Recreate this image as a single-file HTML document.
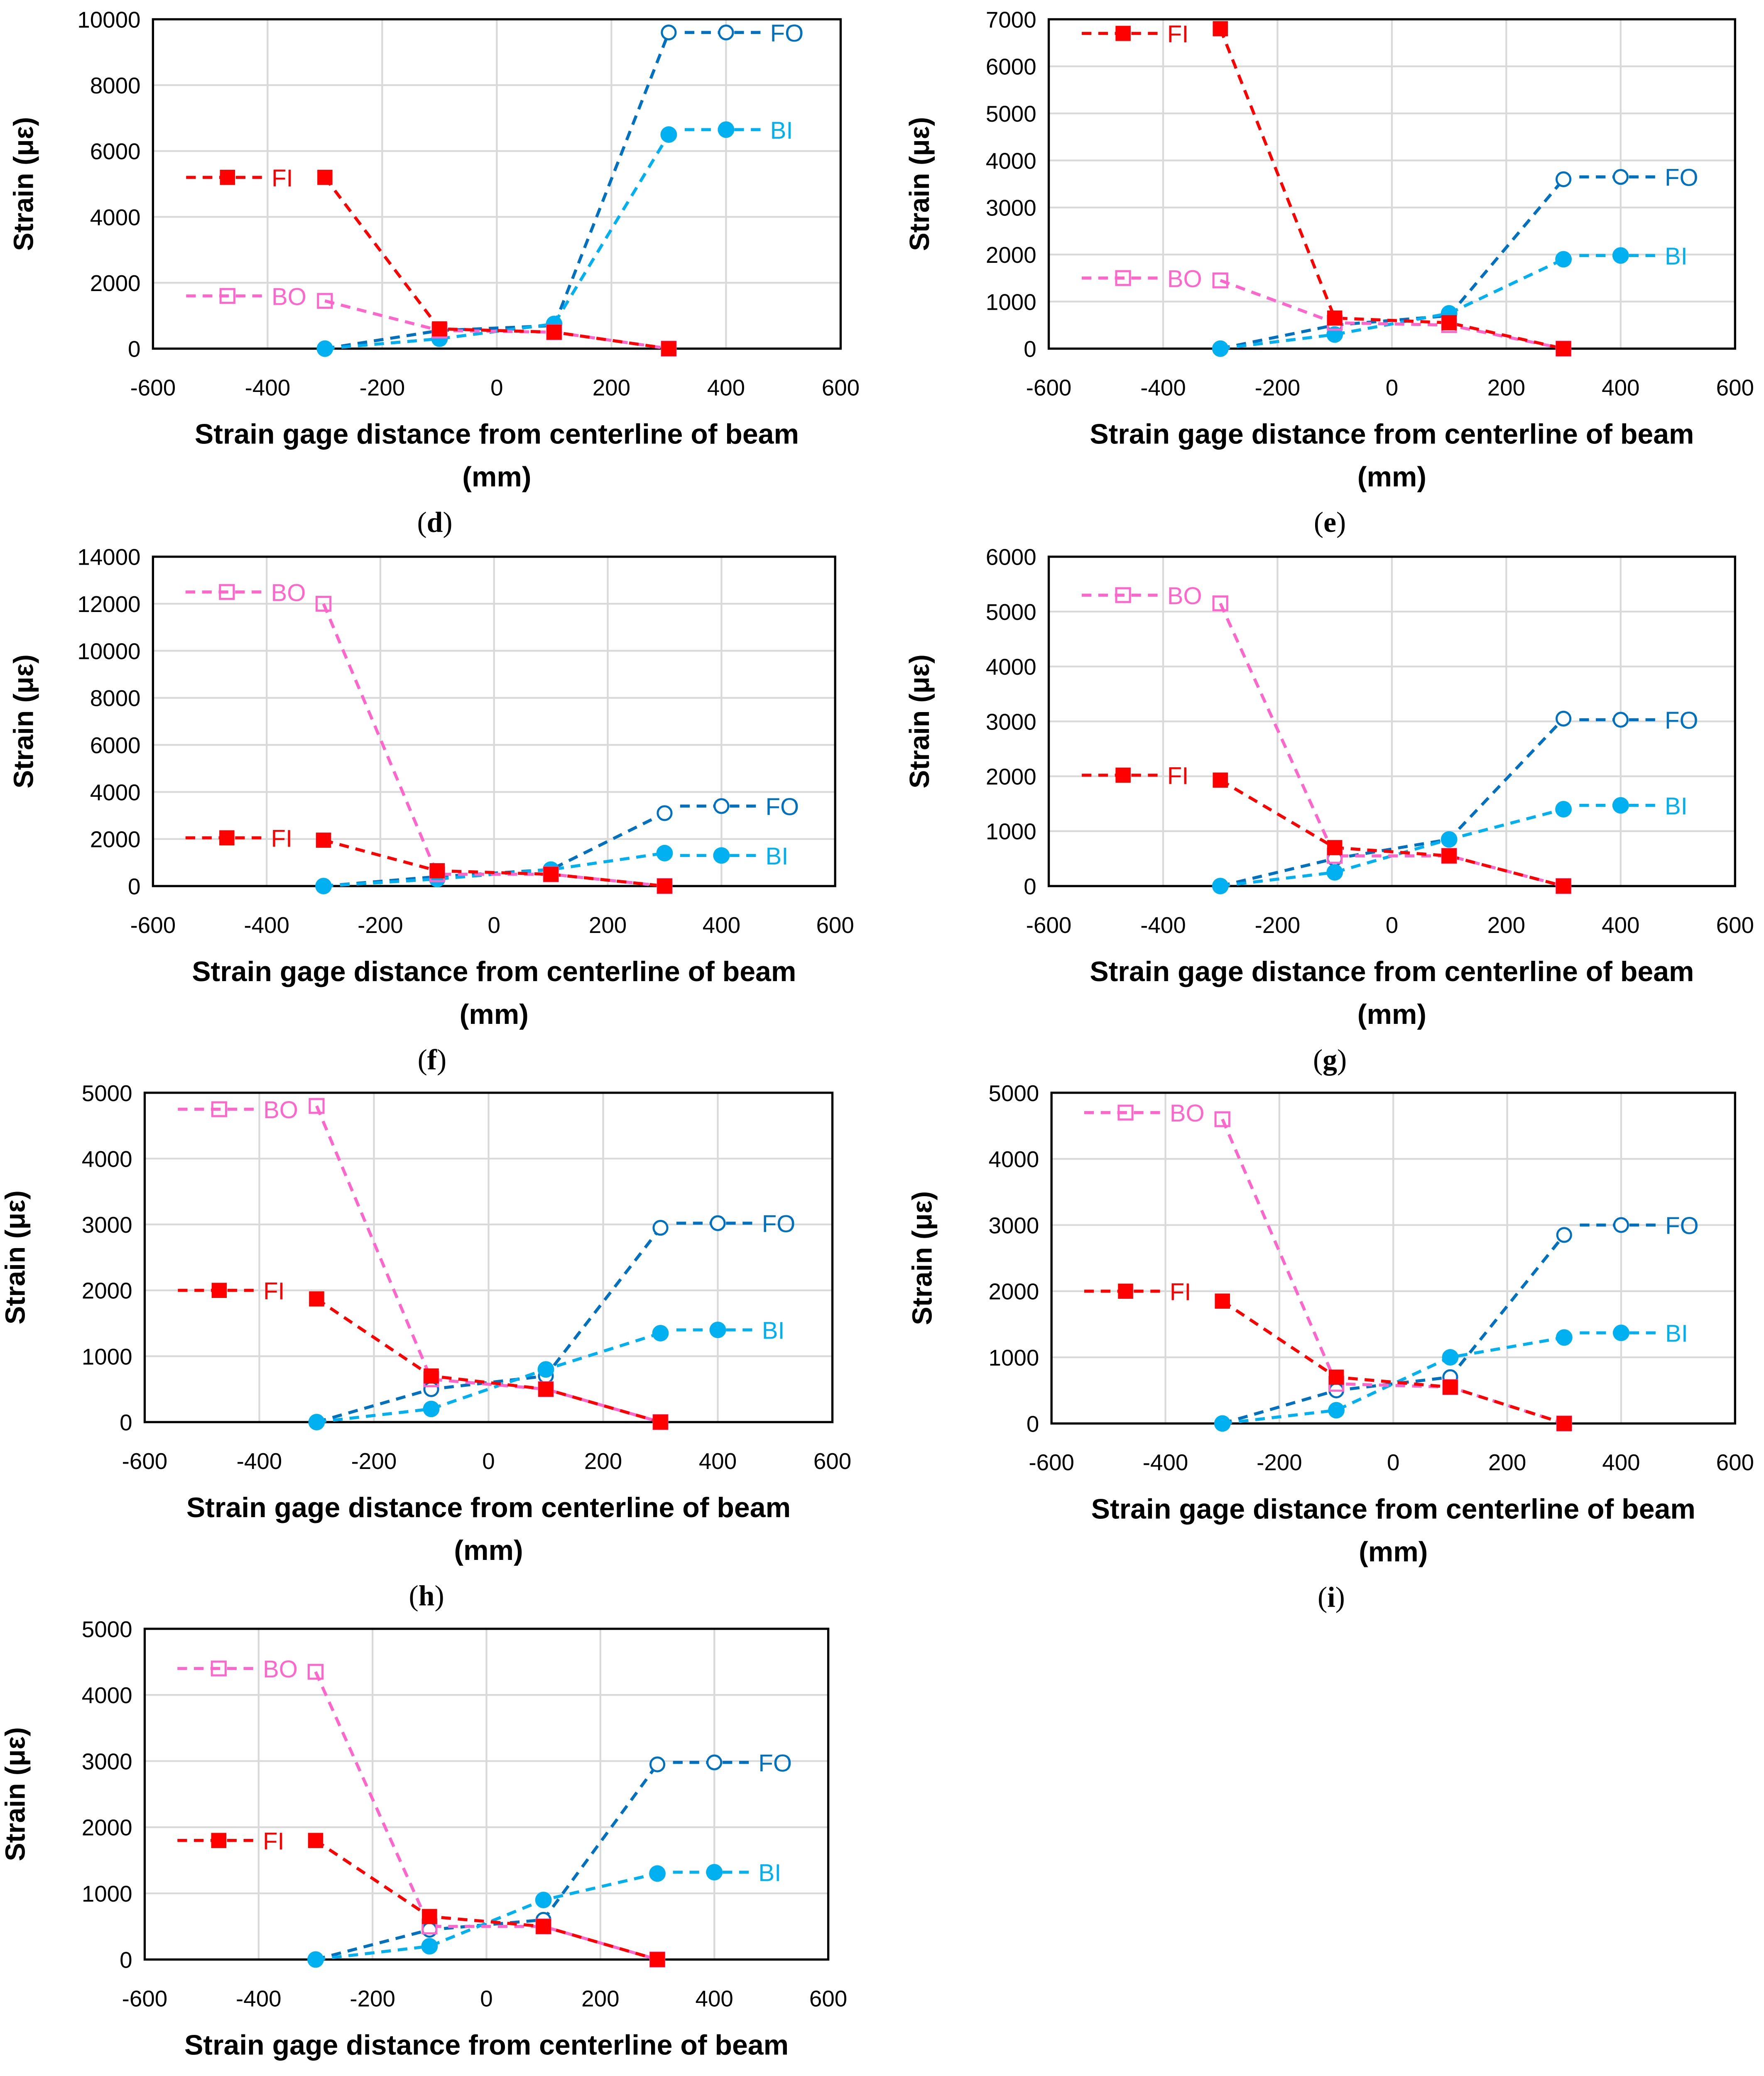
<!DOCTYPE html>
<html><head><meta charset="utf-8">
<style>
html,body{margin:0;padding:0;background:#fff;width:4248px;height:5204px;overflow:hidden;}
svg{display:block;position:absolute;left:0;top:0;}
text{font-family:"Liberation Sans",sans-serif;}
</style></head>
<body>
<svg id="fig" width="4248" height="5204" viewBox="0 0 1280 1568" preserveAspectRatio="none" xmlns="http://www.w3.org/2000/svg"></svg>
<script>
// shared data
const gageX = [-300, -100, 100, 300];
const xTicks = [-600, -400, -200, 0, 200, 400, 600];
const seriesNames = ["FI", "BO", "FO", "BI"];

// panel d
const dFI = [5200, 600, 500, 0];
const dBO = [1450, 550, 500, 0];
const dFO = [0, 550, 700, 9600];
const dBI = [0, 300, 750, 6500];
const dLeg = [5200, 1600, 9600, 6650];
const dYTicks = [0, 2000, 4000, 6000, 8000, 10000];
// panel e
const eFI = [6800, 650, 550, 0];
const eBO = [1450, 550, 500, 0];
const eFO = [0, 500, 700, 3600];
const eBI = [0, 300, 750, 1900];
const eLeg = [6700, 1500, 3650, 1980];
const eYTicks = [0, 1000, 2000, 3000, 4000, 5000, 6000, 7000];
// panel f
const fFI = [1950, 650, 500, 0];
const fBO = [12000, 500, 500, 0];
const fFO = [0, 400, 700, 3100];
const fBI = [0, 300, 700, 1400];
const fLeg = [2050, 12500, 3400, 1300];
const fYTicks = [0, 2000, 4000, 6000, 8000, 10000, 12000, 14000];
// panel g
const gFI = [1930, 700, 550, 0];
const gBO = [5150, 550, 550, 0];
const gFO = [0, 500, 850, 3050];
const gBI = [0, 250, 850, 1400];
const gLeg = [2020, 5300, 3030, 1470];
const gYTicks = [0, 1000, 2000, 3000, 4000, 5000, 6000];
// panel h
const hFI = [1870, 700, 500, 0];
const hBO = [4800, 650, 500, 0];
const hFO = [0, 500, 700, 2950];
const hBI = [0, 200, 800, 1350];
const hLeg = [2000, 4750, 3020, 1400];
const hYTicks = [0, 1000, 2000, 3000, 4000, 5000];
// panel i
const iFI = [1850, 700, 550, 0];
const iBO = [4600, 600, 550, 0];
const iFO = [0, 500, 700, 2850];
const iBI = [0, 200, 1000, 1300];
const iLeg = [2000, 4700, 3000, 1370];
const iYTicks = [0, 1000, 2000, 3000, 4000, 5000];
// panel j
const jFI = [1800, 650, 500, 0];
const jBO = [4350, 500, 500, 0];
const jFO = [0, 450, 600, 2950];
const jBI = [0, 200, 900, 1300];
const jLeg = [1800, 4400, 2980, 1320];
const jYTicks = [0, 1000, 2000, 3000, 4000, 5000];

const NS = "http://www.w3.org/2000/svg";
const svg = document.getElementById('fig');
function mk(tag, attrs, parent) {
  const e = document.createElementNS(NS, tag);
  for (const k in attrs) e.setAttribute(k, attrs[k]);
  (parent || svg).appendChild(e);
  return e;
}
const colors = {FI: "#FF0000", BO: "#FF66CC", FO: "#0070C0", BI: "#00B0F0"};

function marker(g, name, x, y) {
  let m;
  if (name === "FI") {
    m = mk('rect', {x: x - 5.5, y: y - 5.5, width: 11, height: 11, fill: colors.FI}, g);
  } else if (name === "BO") {
    m = mk('rect', {x: x - 5, y: y - 5, width: 10, height: 10, fill: "none", stroke: colors.BO, 'stroke-width': 1.5}, g);
  } else if (name === "FO") {
    m = mk('circle', {cx: x, cy: y, r: 5, fill: "#fff", stroke: colors.FO, 'stroke-width': 1.5}, g);
  } else {
    m = mk('circle', {cx: x, cy: y, r: 6, fill: colors.BI}, g);
  }
  
  
}

function panel(id, L, R, T, B, yMax, yTicks, series, leg) {
  const g = mk('g', {});
  
  
  const xs = v => L + (v + 600) / 1200 * (R - L);
  const ys = v => B - v / yMax * (B - T);
  xTicks.forEach(t => {
    if (t === -600 || t === 600) return;
    const l = mk('line', {x1: xs(t), x2: xs(t), y1: T, y2: B, stroke: "#d9d9d9", 'stroke-width': 1.3}, g);
    
    
  });
  yTicks.forEach(t => {
    const l = mk('line', {x1: L, x2: R, y1: ys(t), y2: ys(t), stroke: "#d9d9d9", 'stroke-width': 1.3}, g);
    
    
    const tx = mk('text', {x: L - 9, y: ys(t) + 6, 'text-anchor': 'end', 'font-size': 16.5, fill: "#000"}, g);
    tx.textContent = t;
    
    
  });
  xTicks.forEach(t => {
    const tx = mk('text', {x: xs(t), y: B + 34, 'text-anchor': 'middle', 'font-size': 16.5, fill: "#000"}, g);
    tx.textContent = t;
    
    
  });
  const frame = mk('rect', {x: L, y: T, width: R - L, height: B - T, fill: "none", stroke: "#000", 'stroke-width': 1.6}, g);
  
  
  const order = [2, 3, 1, 0];
  order.forEach(si => {
    const name = seriesNames[si], vals = series[si];
    const pts = gageX.map((x, i) => xs(x) + "," + ys(vals[i])).join(" ");
    const pl = mk('polyline', {points: pts, fill: "none", stroke: colors[name], 'stroke-width': 2.2, 'stroke-dasharray': "7,5"}, g);
    
    
  });
  order.forEach(si => {
    const name = seriesNames[si], vals = series[si];
    gageX.forEach((x, i) => marker(g, name, xs(x), ys(vals[i])));
  });
  seriesNames.forEach((name, si) => {
    const mx = (name === "FI" || name === "BO") ? xs(-470) : xs(400);
    const my = ys(leg[si]);
    const ln = mk('line', {x1: mx - 30, x2: mx + 30, y1: my, y2: my, stroke: colors[name], 'stroke-width': 2.2, 'stroke-dasharray': "7,5"}, g);
    
    
    marker(g, name, mx, my);
    const tx = mk('text', {x: mx + 32, y: my + 6.5, 'font-size': 17.5, fill: colors[name]}, g);
    tx.textContent = name;
    
    
  });
  const cx = (L + R) / 2;
  const xt = mk('text', {x: cx, y: B + 69, 'text-anchor': 'middle', 'font-size': 20.5, 'font-weight': 'bold'}, g);
  xt.textContent = "Strain gage distance from centerline of beam";
  
  
  const xt2 = mk('text', {x: cx, y: B + 100, 'text-anchor': 'middle', 'font-size': 20.5, 'font-weight': 'bold'}, g);
  xt2.textContent = "(mm)";
  
  
  const yc = (T + B) / 2, yx = L - 87;
  const yt = mk('text', {x: yx, y: yc, 'text-anchor': 'middle', 'font-size': 20, 'font-weight': 'bold', transform: `rotate(-90 ${yx} ${yc})`}, g);
  yt.textContent = "Strain (με)";
  
  
  const pl = mk('text', {x: cx - 45, y: B + 133, 'text-anchor': 'middle', 'font-size': 21, style: 'font-family:"Liberation Serif",serif'}, g);
  pl.innerHTML = '(<tspan font-weight="bold">' + id + '</tspan>)';
  
  
}

panel('d', 111, 610, 14, 253, 10000, dYTicks, [dFI, dBO, dFO, dBI], dLeg);
panel('e', 761, 1259, 14, 253, 7000, eYTicks, [eFI, eBO, eFO, eBI], eLeg);
panel('f', 111, 606, 404, 643, 14000, fYTicks, [fFI, fBO, fFO, fBI], fLeg);
panel('g', 761, 1259, 404, 643, 6000, gYTicks, [gFI, gBO, gFO, gBI], gLeg);
panel('h', 105, 604, 793, 1032, 5000, hYTicks, [hFI, hBO, hFO, hBI], hLeg);
panel('i', 763, 1259, 793, 1033, 5000, iYTicks, [iFI, iBO, iFO, iBI], iLeg);
panel('j', 105, 601, 1182, 1422, 5000, jYTicks, [jFI, jBO, jFO, jBI], jLeg);
</script>
</body></html>
